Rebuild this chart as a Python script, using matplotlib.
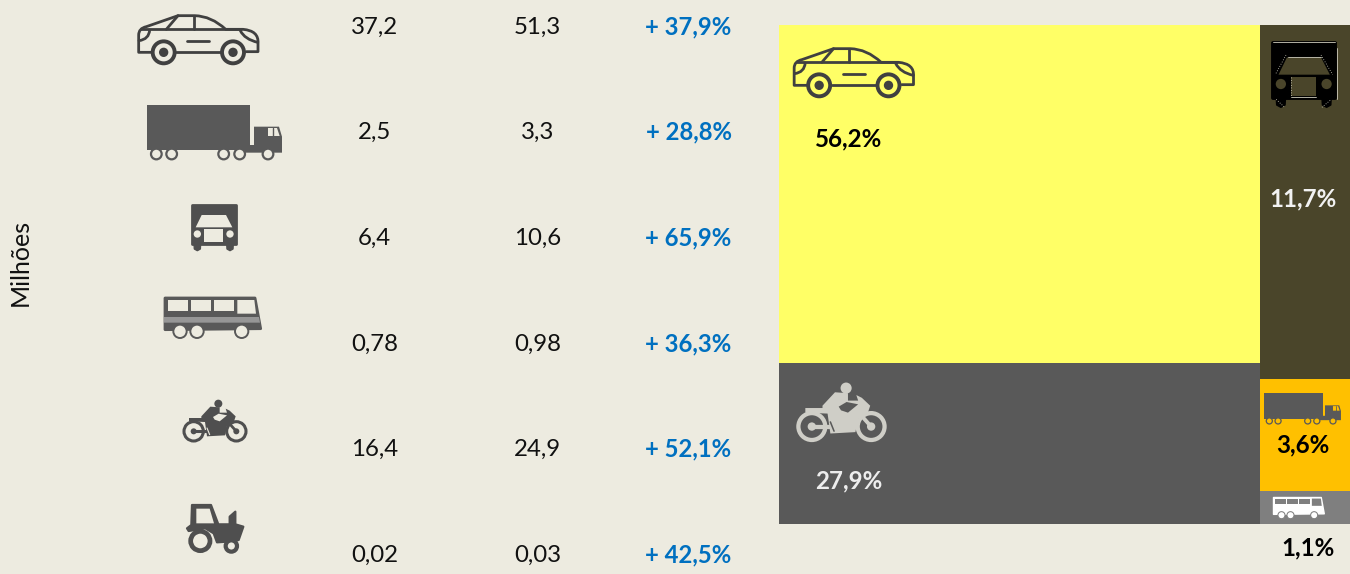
import matplotlib
matplotlib.use('Agg')
import matplotlib.pyplot as plt
from matplotlib.patches import Circle, PathPatch, Polygon, Rectangle
from matplotlib.path import Path

plt.rcParams['font.family'] = ['Lato', 'DejaVu Sans']

# table, values in millions
col_a = [37.2, 2.5, 6.4, 0.78, 16.4, 0.02]
col_b = [51.3, 3.3, 10.6, 0.98, 24.9, 0.03]
growth = [37.9, 28.8, 65.9, 36.3, 52.1, 42.5]
row_y = [27, 132, 238, 344, 449, 555]
unit_label = 'Milhões'

# treemap: shown percentages and tile sizes
left_names = ['car', 'moto']
left_labels = [56.2, 27.9]
left_sizes = [56.9, 27.2]
right_names = ['van', 'truck', 'bus']
right_labels = [11.7, 3.6, 1.1]
right_sizes = [11.16, 3.53, 1.04]

BG = '#EDEBE0'
DARK = '#4F4F4F'
BLUE = '#0070C0'
tile_colors = {'car': '#FFFF66', 'moto': '#595959', 'van': '#4A452A', 'truck': '#FFC000', 'bus': '#7F7F7F'}

fig = plt.figure(figsize=(13.5, 5.74), dpi=100, facecolor=BG)
ax = fig.add_axes([0, 0, 1, 1])
ax.set_xlim(0, 1350)
ax.set_ylim(574, 0)
ax.axis('off')


def fmt(v):
    return str(v).replace('.', ',')


def mapper(ref, org, k):
    # icons are traced in 3x zoom pixels, ref is their top-left corner
    return lambda x, y: (org[0] + (x - ref[0]) / 3 * k, org[1] + (y - ref[1]) / 3 * k)


def poly(m, pts, color, lw=0, z=3):
    ax.add_patch(Polygon([m(*p) for p in pts], closed=True, fc=color, ec=color, lw=lw, joinstyle='round', zorder=z))


def ring(m, x, y, r, k, fc, ec, lw, z=3):
    cx, cy = m(x, y)
    ax.add_patch(Circle((cx, cy), r / 3 * k, fc=fc, ec=ec, lw=lw, zorder=z))


def curve(m, verts, codes, color, lw, z=3):
    path = Path([m(*v) for v in verts], codes)
    ax.add_patch(PathPatch(path, fc='none', ec=color, lw=lw, capstyle='round', joinstyle='round', zorder=z))


def seg(m, a, b, color, lw, z=3, ls='-'):
    p, q = m(*a), m(*b)
    ax.add_line(plt.Line2D([p[0], q[0]], [p[1], q[1]], color=color, lw=lw, ls=ls, zorder=z, solid_capstyle='round'))


def car(org, k, color, bg):
    m = mapper((55, 45), org, k)
    M, L, C = Path.MOVETO, Path.LINETO, Path.CURVE3
    lw = 2.0 * k
    curve(m, [(95, 157), (57, 157), (57, 105), (57, 85), (80, 80), (175, 47), (225, 47),
              (275, 48), (318, 88), (370, 88), (418, 92), (415, 130), (415, 155), (380, 155)],
          [M, L, L, C, C, L, L, C, C, L, C, C, L, L], color, lw)
    curve(m, [(170, 155), (305, 155)], [M, L], color, lw)
    curve(m, [(65, 88), (365, 88)], [M, L], color, lw)
    curve(m, [(140, 88), (175, 47)], [M, L], color, lw)
    curve(m, [(222, 47), (222, 88)], [M, L], color, lw)
    curve(m, [(203, 122), (268, 122)], [M, L], color, lw)
    curve(m, [(362, 92), (375, 118), (414, 127)], [M, C, C], color, lw)
    curve(m, [(90, 90), (88, 118), (58, 122)], [M, C, C], color, lw)
    for wx in (132, 340):
        ring(m, wx, 157, 33, k, bg, color, 2.8 * k)
        ring(m, wx, 157, 14, k, color, color, 0)


def truck(org, k, color, bg):
    m = mapper((82, 315), org, k)
    poly(m, [(82, 315), (390, 315), (390, 450), (82, 450)], color)
    poly(m, [(403, 380), (478, 380), (487, 410), (487, 458), (375, 458), (375, 435), (403, 435)], color)
    poly(m, [(445, 384), (472, 384), (480, 408), (445, 408)], bg)
    seg(m, (459, 384), (459, 408), color, 1 * k, z=4)
    for wx in (110, 156, 312, 360, 445):
        ring(m, wx, 462, 16, k, bg, color, 1.6 * k, z=4)


def van(org, k, color, glass, edge=None):
    m = mapper((213, 612), org, k)
    poly(m, [(216, 615), (348, 615), (348, 733), (216, 733)], color, lw=2 * k)
    for fx in (232, 330):
        poly(m, [(fx - 10, 730), (fx + 10, 730), (fx + 9, 747), (fx, 752), (fx - 9, 747)], color, lw=1)
    poly(m, [(245, 645), (318, 645), (337, 682), (227, 682)], glass)
    ring(m, 232, 702, 11, k, glass, glass, 0, z=4)
    ring(m, 330, 702, 11, k, glass, glass, 0, z=4)
    poly(m, [(253, 688), (308, 688), (308, 727), (253, 727)], glass, z=4)
    if edge:
        # thin light traces around the dark version
        for a, b in (((216, 612), (348, 612)), ((352, 625), (352, 735)), ((253, 729), (308, 729)),
                     ((247, 645), (318, 645))):
            seg(m, a, b, edge, 0.6, z=5)
        for a, b in (((243, 640), (220, 682)), ((318, 640), (343, 682)), ((222, 735), (240, 752)),
                     ((320, 752), (340, 735)), ((253, 688), (253, 727))):
            seg(m, a, b, edge, 0.6, z=5, ls=(0, (1, 2)))


def bus(org, k, color, bg, stripe=None):
    m = mapper((132, 35), org, k)
    poly(m, [(135, 38), (405, 38), (422, 130), (135, 133)], color, lw=2 * k)
    for w in ([(143, 44), (203, 44), (203, 77), (143, 77)], [(212, 44), (272, 44), (272, 77), (212, 77)],
              [(281, 44), (341, 44), (341, 77), (281, 77)], [(352, 44), (403, 44), (408, 85), (352, 85)]):
        poly(m, w, bg, z=4)
    if stripe:
        poly(m, [(132, 95), (417, 95), (420, 112), (132, 112)], stripe, z=4)
    for wx in (180, 231, 365):
        ring(m, wx, 138, 20, k, bg if stripe else color, bg if not stripe else color, 1.4 * k, z=4)


def moto(org, k, color, bg):
    m = mapper((190, 346), org, k)
    ring(m, 296, 357, 12, k, color, color, 0)
    # rider and bike body
    poly(m, [(245, 395), (272, 366), (300, 368), (300, 384), (322, 384), (318, 372), (330, 378), (348, 395),
             (343, 410), (322, 424), (316, 452), (262, 455), (256, 412), (208, 410), (208, 400), (245, 400)], color)
    poly(m, [(280, 397), (297, 387), (322, 392), (300, 410), (285, 405)], bg, z=4)
    seg(m, (262, 430), (270, 450), bg, 0.8 * k, z=4)
    seg(m, (262, 440), (222, 440), color, 2.2 * k)
    seg(m, (325, 412), (350, 440), color, 2.0 * k)
    for wx in (222, 350):
        ring(m, wx, 440, 29, k, 'none', color, 2.2 * k)
        ring(m, wx, 440, 9, k, color, color, 0)


def tractor(org, k, color, bg):
    m = mapper((200, 657), org, k)
    poly(m, [(215, 660), (272, 660), (294, 718), (328, 718), (328, 695), (345, 680), (345, 718), (369, 725),
             (355, 765), (320, 770), (290, 772), (280, 745), (255, 730), (205, 738), (200, 730), (213, 720)],
         color, lw=1.6 * k)
    poly(m, [(228, 671), (268, 671), (281, 715), (228, 715)], bg, z=4)
    ring(m, 240, 768, 29, k, bg, color, 3.4 * k, z=4)
    ring(m, 333, 783, 17, k, bg, color, 3.0 * k, z=4)


# table column of icons
car((138, 15), 1, '#404040', BG)
truck((147, 105), 1, '#595959', BG)
van((191, 204), 1, DARK, BG)
bus((164, 297), 1, '#595959', BG, stripe='#969696')
moto((183, 400), 1, DARK, BG)
tractor((187, 504), 1, DARK, BG)

ax.text(20, 262, unit_label, rotation=90, fontsize=18, ha='center', va='center', color='#111111')

for i, y in enumerate(row_y):
    ax.text(374.5, y, fmt(col_a[i]), fontsize=17.3, ha='center', va='center', color='#111111')
    ax.text(537.5, y, fmt(col_b[i]), fontsize=17.3, ha='center', va='center', color='#111111')
    ax.text(688.5, y, '+ ' + fmt(growth[i]) + '%', fontsize=17.2, fontweight='bold',
            ha='center', va='center', color=BLUE)

# treemap
x0, x1, y0, y1 = 779, 1350, 25, 524
total = sum(left_sizes) + sum(right_sizes)
xm = x0 + (x1 - x0) * sum(left_sizes) / total
tiles = {}
for names, sizes, xa, xb in ((left_names, left_sizes, x0, xm), (right_names, right_sizes, xm, x1)):
    top = y0
    for name, size in zip(names, sizes):
        h = (y1 - y0) * size / sum(sizes)
        ax.add_patch(Rectangle((xa, top), xb - xa, h, fc=tile_colors[name], ec='none', zorder=1))
        tiles[name] = (xa, top, xb, top + h)
        top += h

car((793.5, 48), 1, '#404040', tile_colors['car'])
moto((797, 383), 1.39, '#CFCEC7', tile_colors['moto'])
van((1272, 42), 1.4, '#000000', tile_colors['van'], edge='#CFCDBF')
truck((1264, 393), 0.57, '#595959', tile_colors['truck'])
bus((1273, 497), 0.53, '#FFFFFF', tile_colors['bus'])

pct_style = dict(fontsize=17.4, fontweight='bold', ha='center', va='center', zorder=6)
ax.text(848.5, 139, fmt(left_labels[0]) + '%', color='#000000', **pct_style)
ax.text(848.5, 481, fmt(left_labels[1]) + '%', color='#EDEDED', **pct_style)
ax.text(1303, 199, fmt(right_labels[0]) + '%', color='#F2F2F2', **pct_style)
ax.text(1303, 445, fmt(right_labels[1]) + '%', color='#000000', **pct_style)
ax.text(1308, 548, fmt(right_labels[2]) + '%', color='#000000', **pct_style)

fig.savefig('out.png', dpi=100, facecolor=BG)
